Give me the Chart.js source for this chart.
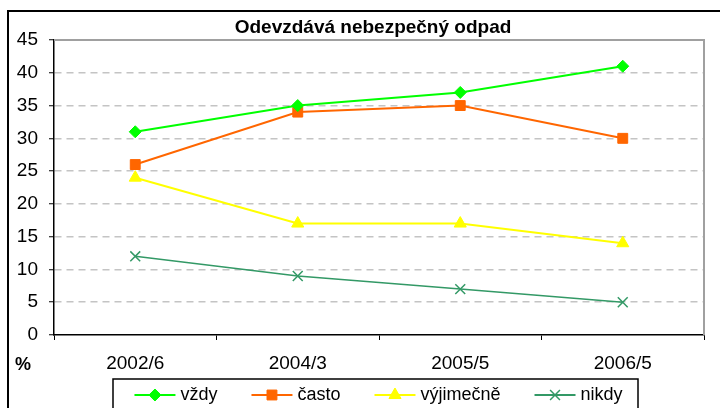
<!DOCTYPE html>
<html>
<head>
<meta charset="utf-8">
<script src="https://cdn.jsdelivr.net/npm/chart.js@4.4.0/dist/chart.umd.min.js"></script>
<style>
  html, body { margin: 0; padding: 0; background: #fff; }
  #wrap { width: 720px; height: 408px; }
</style>
</head>
<body>
<div id="wrap"><canvas id="odpadChart"></canvas></div>
<script>
// data
const periods = ['2002/6', '2004/3', '2005/5', '2006/5'];
const vzdy = [31, 35, 37, 41];
const casto = [26, 34, 35, 30];
const vyjimecne = [24, 17, 17, 14];
const nikdy = [12, 9, 7, 5];
const chartTitle = 'Odevzdává nebezpečný odpad';
const unitLabel = '%';

const FONT = "'Liberation Sans', Arial, sans-serif";

// frame, title, % label and legend box (Excel look)
const excelFrame = {
  id: 'excelFrame',
  beforeDatasetsDraw(chart) {
    const { ctx, chartArea: a } = chart;
    ctx.save();
    ctx.strokeStyle = '#a0a0a0';
    ctx.lineWidth = 2;
    ctx.beginPath();
    ctx.moveTo(a.left, a.top);
    ctx.lineTo(a.right, a.top);
    ctx.lineTo(a.right, a.bottom);
    ctx.stroke();
    ctx.restore();
  },
  afterDraw(chart) {
    const { ctx } = chart;
    ctx.save();
    // outer border
    ctx.strokeStyle = '#000';
    ctx.lineWidth = 2;
    ctx.strokeRect(8, 11, 730, 420);

    // title
    ctx.fillStyle = '#000';
    ctx.font = 'bold 19px ' + FONT;
    ctx.textAlign = 'center';
    ctx.textBaseline = 'alphabetic';
    ctx.fillText(chartTitle, 373, 33);

    // unit
    ctx.font = 'bold 18px ' + FONT;
    ctx.textAlign = 'left';
    ctx.fillText(unitLabel, 15, 370);

    // legend
    const boxL = 113, boxR = 638, boxT = 379, y = 395;
    ctx.lineWidth = 1.5;
    ctx.strokeRect(boxL, boxT, boxR - boxL, 40);
    ctx.font = '18px ' + FONT;
    const lineLen = 41, textGap = 5, itemGap = 34;
    const sets = chart.data.datasets;
    const widths = sets.map(ds => ctx.measureText(ds.label).width);
    let total = itemGap * (sets.length - 1);
    widths.forEach(w => { total += lineLen + textGap + w; });
    let x = (boxL + boxR) / 2 - total / 2 + 3;
    sets.forEach((ds, i) => {
      ctx.strokeStyle = ds.borderColor;
      ctx.lineWidth = 2;
      ctx.beginPath();
      ctx.moveTo(x, y);
      ctx.lineTo(x + lineLen, y);
      ctx.stroke();
      ctx.fillStyle = ds.pointBackgroundColor;
      ctx.strokeStyle = ds.pointBorderColor;
      ctx.lineWidth = ds.pointBorderWidth;
      Chart.helpers.drawPoint(ctx, {
        pointStyle: ds.pointStyle,
        radius: ds.pointRadius,
        rotation: 0,
        borderWidth: ds.pointBorderWidth
      }, x + lineLen / 2, y);
      ctx.fillStyle = '#000';
      ctx.textBaseline = 'middle';
      ctx.fillText(ds.label, x + lineLen + textGap, y);
      x += lineLen + textGap + widths[i] + itemGap;
    });
    ctx.restore();
  }
};

const data = {
  labels: periods,
  datasets: [{
      label: 'vždy',
      data: vzdy,
      borderColor: '#00ff00',
      borderWidth: 2,
      pointStyle: 'rectRot',
      pointRadius: 6,
      pointBackgroundColor: '#00ff00',
      pointBorderColor: '#00ff00',
      pointBorderWidth: 1
    },
    {
      label: 'často',
      data: casto,
      borderColor: '#ff6600',
      borderWidth: 2,
      pointStyle: 'rect',
      pointRadius: 7,
      pointBackgroundColor: '#ff6600',
      pointBorderColor: '#ff6600',
      pointBorderWidth: 1
    },
    {
      label: 'výjimečně',
      data: vyjimecne,
      borderColor: '#ffff00',
      borderWidth: 2,
      pointStyle: 'triangle',
      pointRadius: 7,
      pointBackgroundColor: '#ffff00',
      pointBorderColor: '#ffff00',
      pointBorderWidth: 1
    },
    {
      label: 'nikdy',
      data: nikdy,
      borderColor: '#339966',
      borderWidth: 1.5,
      pointStyle: 'crossRot',
      pointRadius: 7,
      pointBackgroundColor: '#339966',
      pointBorderColor: '#339966',
      pointBorderWidth: 1.5
    }
  ]
};

const config = {
  type: 'line',
  data,
  options: {
    responsive: true,
    maintainAspectRatio: false,
    animation: false,
    layout: {
      padding: { top: 40, left: 8, right: 16, bottom: 0 }
    },
    plugins: {
      legend: { display: false },
      title: { display: false },
      tooltip: { enabled: false }
    },
    elements: {
      line: { tension: 0 }
    },
    scales: {
      x: {
        offset: true,
        afterFit: s => { s.height = 73; },
        grid: {
          offset: true,
          drawOnChartArea: false,
          drawTicks: true,
          tickLength: 5,
          tickColor: '#000',
          tickWidth: 1
        },
        border: { color: '#000', width: 1.5 },
        ticks: {
          color: '#000',
          padding: 12,
          maxRotation: 0,
          font: { family: FONT, size: 19 }
        }
      },
      y: {
        min: 0,
        max: 45,
        afterFit: s => { s.width = 46; },
        grid: {
          color: c => (c.tick && (c.tick.value === 45 || c.tick.value === 0)) ? 'rgba(0,0,0,0)' : '#c4c4c4',
          lineWidth: 1.5,
          tickLength: 5,
          tickColor: '#000',
          tickWidth: 1,
          tickBorderDash: []
        },
        border: { color: '#000', width: 1.5, dash: [7, 5] },
        ticks: {
          stepSize: 5,
          color: '#000',
          padding: 11,
          font: { family: FONT, size: 19 }
        }
      }
    }
  },
  plugins: [excelFrame]
};

const odpadChart = new Chart(
  document.getElementById('odpadChart'),
  config
);
</script>
</body>
</html>
